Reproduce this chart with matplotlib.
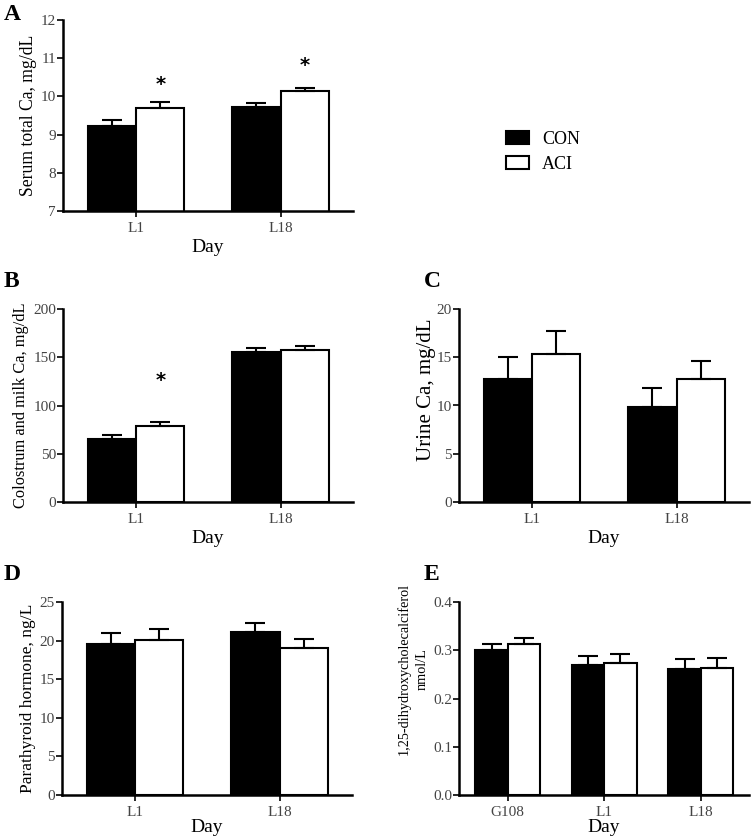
import numpy as np
import matplotlib.pyplot as plt
from matplotlib.patches import Patch

plt.rcParams['font.family'] = ['Liberation Serif', 'DejaVu Serif']

days_ab = ['L1', 'L18']
days_e = ['G108', 'L1', 'L18']

# serum total Ca (A)
serum_con = [9.22, 9.73]
serum_con_se = [0.16, 0.10]
serum_aci = [9.70, 10.14]
serum_aci_se = [0.15, 0.09]

# colostrum and milk Ca (B)
milk_con = [65.6, 155.4]
milk_con_se = [4.2, 4.6]
milk_aci = [79.0, 157.5]
milk_aci_se = [3.9, 4.1]

# urine Ca (C)
urine_con = [12.7, 9.84]
urine_con_se = [2.32, 1.95]
urine_aci = [15.35, 12.72]
urine_aci_se = [2.36, 1.94]

# PTH (D)
pth_con = [19.5, 21.05]
pth_con_se = [1.5, 1.25]
pth_aci = [20.14, 19.0]
pth_aci_se = [1.42, 1.2]

# 1,25-(OH)2D (E)
vitd_con = [0.3015, 0.270, 0.2607]
vitd_con_se = [0.0115, 0.018, 0.021]
vitd_aci = [0.313, 0.2745, 0.2628]
vitd_aci_se = [0.012, 0.0185, 0.022]

W, H = 752, 838
fig = plt.figure(figsize=(W / 100, H / 100), dpi=100)


def px_axes(left, top, right, bottom):
    return fig.add_axes([left / W, 1 - bottom / H, (right - left) / W, (bottom - top) / H])


def panel(ax, days, con, con_se, aci, aci_se, ylim, yticks, ylabel, ylsize,
          stars=None, fmt=None, xlpad=3):
    x = np.arange(len(days))
    w = 0.335
    ekw = dict(elinewidth=1.5, capthick=1.5, ecolor='black')
    ax.bar(x - w / 2, con, w, color='black', edgecolor='black', linewidth=1.5,
           yerr=[np.zeros(len(con)), con_se], capsize=7, error_kw=ekw)
    ax.bar(x + w / 2, aci, w, color='white', edgecolor='black', linewidth=1.5,
           yerr=[np.zeros(len(aci)), aci_se], capsize=7, error_kw=ekw)
    if stars:
        for i, ys in stars:
            ax.text(x[i] + w / 2, ys, '*', ha='center', va='center', fontsize=14,
                    fontfamily='DejaVu Sans', fontweight='bold')
    ax.set_xlim(-0.505, len(days) - 0.5)
    ax.set_ylim(*ylim)
    ax.set_yticks(yticks)
    if fmt:
        ax.set_yticklabels([fmt % v for v in yticks])
    ax.set_xticks(x)
    ax.set_xticklabels(days)
    for s in ['top', 'right']:
        ax.spines[s].set_visible(False)
    for s in ['left', 'bottom']:
        ax.spines[s].set_linewidth(1.8)
    ax.tick_params(axis='y', length=4, width=1.2, labelsize=11, labelcolor='#444444', pad=1)
    ax.tick_params(axis='x', length=4, width=1.2, labelsize=11, labelcolor='#444444', pad=4)
    ax.set_xlabel('Day', fontsize=14, labelpad=xlpad)
    ax.set_ylabel(ylabel, fontsize=ylsize, labelpad=3, linespacing=1.5)


axA = px_axes(63, 20, 353, 211)
panel(axA, days_ab, serum_con, serum_con_se, serum_aci, serum_aci_se,
      (7, 12), [7, 8, 9, 10, 11, 12], 'Serum total Ca, mg/dL', 12.7,
      stars=[(0, 10.3), (1, 10.8)])

axB = px_axes(63, 309, 353, 502)
panel(axB, days_ab, milk_con, milk_con_se, milk_aci, milk_aci_se,
      (0, 200), [0, 50, 100, 150, 200], 'Colostrum and milk Ca, mg/dL', 11.8,
      stars=[(0, 126)])

axC = px_axes(459, 309, 749, 502)
panel(axC, days_ab, urine_con, urine_con_se, urine_aci, urine_aci_se,
      (0, 20), [0, 5, 10, 15, 20], 'Urine Ca, mg/dL', 15)
axC.yaxis.set_label_coords(-0.08, 0.58)

axD = px_axes(62, 602, 352, 795)
panel(axD, days_ab, pth_con, pth_con_se, pth_aci, pth_aci_se,
      (0, 25), [0, 5, 10, 15, 20, 25], 'Parathyroid hormone, ng/L', 12.5, xlpad=0)

axE = px_axes(459, 602, 749, 795)
panel(axE, days_e, vitd_con, vitd_con_se, vitd_aci, vitd_aci_se,
      (0, 0.4), [0.0, 0.1, 0.2, 0.3, 0.4], '1,25-dihydroxycholecalciferol\nnmol/L', 10.3,
      fmt='%.1f', xlpad=0)
axE.yaxis.set_label_coords(-0.105, 0.655)

# panel letters
for lbl, (px, py) in zip('ABCDE', [(4, 14), (4, 281), (424, 281), (4, 574), (424, 574)]):
    fig.text(px / W, 1 - py / H, lbl, fontsize=17, fontweight='bold', va='center', ha='left')

handles = [Patch(facecolor='black', edgecolor='black', linewidth=1.5, label='CON'),
           Patch(facecolor='white', edgecolor='black', linewidth=1.5, label='ACI')]
fig.legend(handles=handles, loc='upper left', bbox_to_anchor=(506 / W, 1 - 131 / H),
           frameon=False, fontsize=13, handlelength=1.3, handleheight=0.7,
           labelspacing=0.45, handletextpad=0.7, borderpad=0, borderaxespad=0)

fig.savefig('out.png', dpi=100)
